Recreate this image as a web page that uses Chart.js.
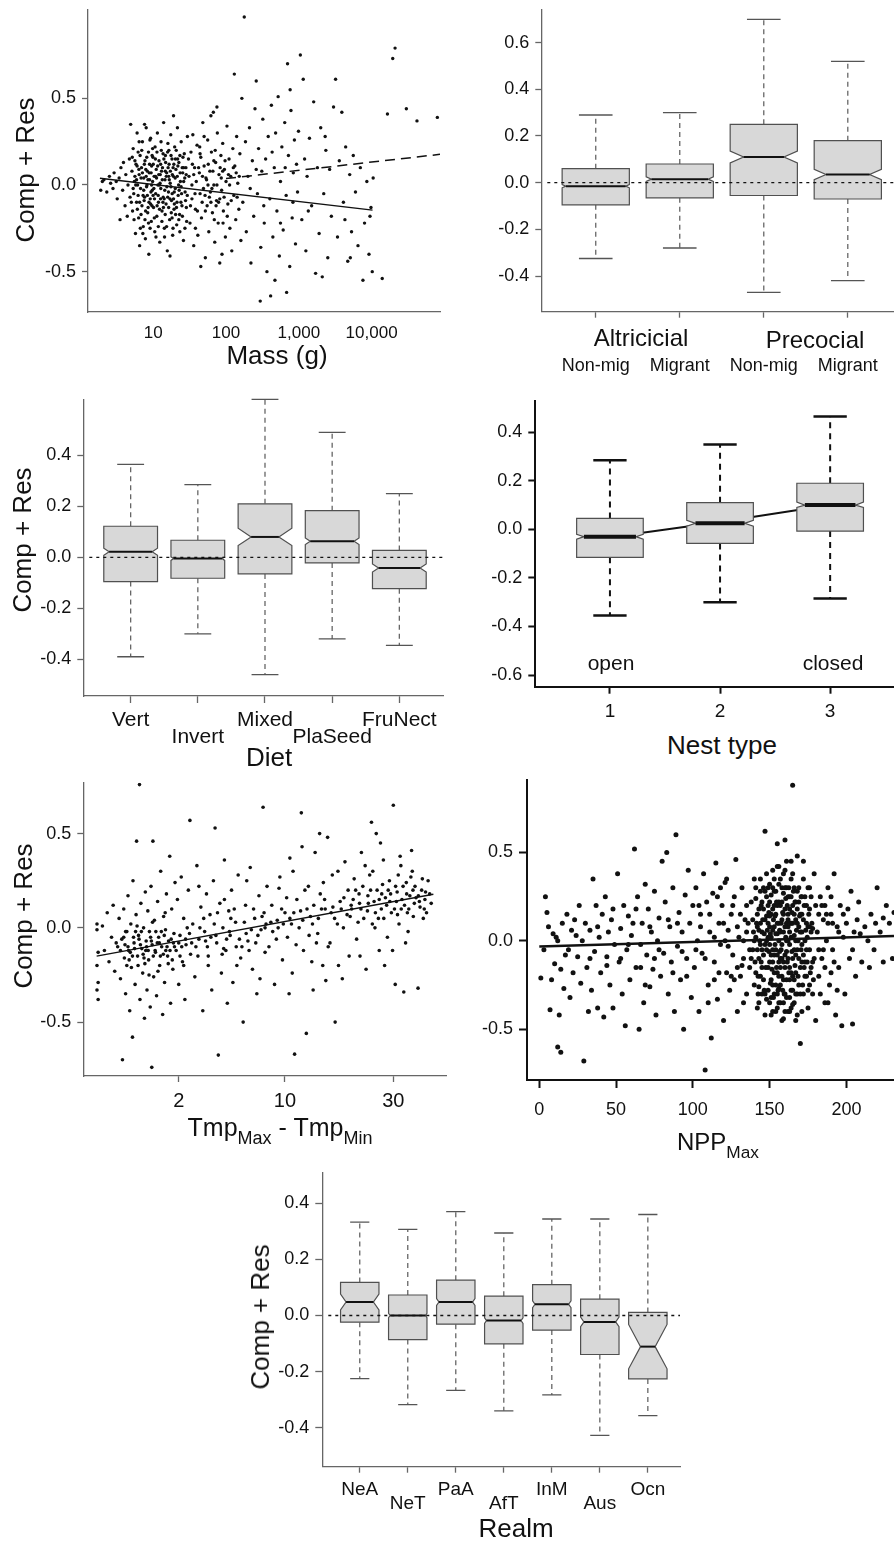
<!DOCTYPE html>
<html>
<head>
<meta charset="utf-8">
<script src="https://cdn.jsdelivr.net/npm/chart.js@4.4.0/dist/chart.umd.min.js"></script>
<style>
body { margin: 0; width: 894px; height: 1544px; position: relative; background: #fff; overflow: hidden;
       font-family: "Liberation Sans", Arial, sans-serif; color: #111; }
canvas { position: absolute; }
.t { position: absolute; transform: translate(-50%, -50%); white-space: nowrap; line-height: 1; }
.rot { transform: translate(-50%, -50%) rotate(-90deg); }
sub { font-size: 0.72em; vertical-align: -0.45em; }
</style>
</head>
<body>
<canvas id="mass"></canvas>
<canvas id="dev"></canvas>
<canvas id="diet"></canvas>
<canvas id="nest"></canvas>
<canvas id="tmp"></canvas>
<canvas id="npp"></canvas>
<canvas id="realm"></canvas>

<div class="t rot" style="left:25px;top:170px;font-size:26px">Comp + Res</div>
<div class="t" style="left:277px;top:355px;font-size:26px">Mass (g)</div>
<div class="t" style="left:641px;top:338px;font-size:24px">Altricicial</div>
<div class="t" style="left:815px;top:340px;font-size:24px">Precocial</div>
<div class="t rot" style="left:22px;top:540px;font-size:26px">Comp + Res</div>
<div class="t" style="left:269px;top:757px;font-size:26px">Diet</div>
<div class="t" style="left:611px;top:662px;font-size:21px">open</div>
<div class="t" style="left:833px;top:662px;font-size:21px">closed</div>
<div class="t" style="left:722px;top:745px;font-size:26px">Nest type</div>
<div class="t rot" style="left:23px;top:916px;font-size:26px">Comp + Res</div>
<div class="t" style="left:280px;top:1131px;font-size:25px">Tmp<sub>Max</sub> - Tmp<sub>Min</sub></div>
<div class="t" style="left:718px;top:1146px;font-size:24px">NPP<sub>Max</sub></div>
<div class="t rot" style="left:260px;top:1317px;font-size:26px">Comp + Res</div>
<div class="t" style="left:516px;top:1528px;font-size:26px">Realm</div>

<script>
// ---- data ----
// body mass (g) vs component + residual
const massPoints = [
  [1.9,-0.03],[2.0,0.02],[2.1,0.03],[2.3,-0.04],[2.5,0.05],[2.6,0.01],[2.8,-0.02],[2.9,0.07],[3.1,0.02],[3.2,-0.08],
  [3.4,0.04],[3.5,-0.2],[3.6,0.1],[3.8,-0.03],[3.9,0.13],[4.1,-0.12],[4.2,0.06],[4.4,-0.18],[4.5,0.0],[4.7,0.15],
  [4.8,-0.07],[4.9,0.35],
  [5.1,0.08],[5.2,-0.15],[5.3,0.21],[5.4,-0.05],[5.5,0.02],[5.7,-0.28],[5.8,0.12],[5.9,-0.1],[6.0,0.3],[6.1,0.0],
  [6.3,-0.19],[6.4,0.06],[6.5,-0.35],[6.6,0.17],[6.7,-0.02],[6.9,0.1],[7.0,-0.12],[7.1,0.25],[7.3,-0.24],[7.4,0.04],
  [7.6,-0.07],[7.7,0.14],[7.8,-0.31],[8.0,0.33],[8.1,-0.01],[8.3,0.08],[8.4,-0.16],[8.6,0.19],[8.7,-0.4],[8.9,0.03],
  [9.1,-0.08],[9.2,0.27],[9.4,-0.21],[9.5,0.11],[9.7,-0.03],[9.9,0.16],[10.1,-0.13],[10.3,0.05],[10.5,-0.27],[10.6,0.22],
  [10.8,-0.05],[11.0,0.09],[11.2,-0.18],[11.4,0.3],[11.6,0.0],[11.8,-0.1],[12.0,0.14],[12.3,-0.33],[12.5,0.06],[12.7,-0.02],
  [12.9,0.2],[13.2,-0.15],[13.4,0.1],[13.7,-0.07],[13.9,0.36],[14.2,-0.25],[14.5,0.03],[14.7,0.17],[15.0,-0.11],[15.3,0.07],
  [15.6,-0.38],[15.9,0.24],[16.2,-0.04],[16.5,0.12],[16.8,-0.2],[17.1,0.01],[17.4,0.29],[17.8,-0.09],[18.1,0.15],[18.5,-0.29],
  [18.9,0.05],[19.3,-0.14],[19.7,0.22],[20.1,-0.02],[20.5,0.09],[21.0,-0.23],[21.5,0.33],[22.0,-0.06],[22.5,0.13],[23.0,-0.17],
  [23.6,0.02],[24.2,0.25],[24.8,-0.12],[25.4,0.07],[26.0,-0.32],[26.7,0.18],[27.4,-0.04],[28.1,0.1],[28.8,-0.21],[29.5,0.28],
  [5.6,0.05],[6.2,-0.06],[6.8,0.04],[7.5,-0.09],[8.2,0.0],[8.8,0.07],[9.3,-0.04],[9.8,0.02],[10.4,-0.08],[11.1,0.04],
  [11.7,-0.06],[12.4,0.01],[13.0,0.08],[13.6,-0.1],[14.4,-0.03],[15.1,0.05],[15.8,-0.07],[16.6,0.03],[17.5,-0.01],[18.3,0.06],
  [19.0,-0.08],[20.0,0.04],[21.2,-0.1],[22.3,0.0],[23.4,0.07],[24.5,-0.05],[26.2,0.02],[27.8,-0.09],[7.9,0.09],[9.6,-0.12],
  [11.5,0.11],[13.8,-0.13],[16.0,0.1],[19.5,-0.11],[25.0,0.1],[5.0,-0.1],[6.0,0.11],[8.5,-0.13],[10.0,0.12],[12.2,-0.14],
  [14.8,0.13],[17.7,-0.16],[21.8,0.11],[7.6,0.35],[17.0,-0.41],[19.0,0.4],
  [5.3,-0.02],[5.6,0.14],[5.9,0.03],[6.2,0.19],[6.5,-0.1],[6.8,-0.17],[7.1,0.07],[7.4,-0.03],[7.7,-0.2],[8.0,0.05],
  [8.3,-0.06],[8.6,-0.22],[8.9,0.12],[9.2,-0.11],[9.5,0.0],[9.8,0.21],[10.2,-0.02],[10.7,0.15],[11.3,-0.12],[11.9,0.06],
  [12.6,-0.08],[13.3,0.03],[14.0,0.15],[14.6,-0.17],[15.4,-0.01],[16.3,-0.13],[17.2,0.08],[18.2,-0.05],[19.2,0.12],[20.3,-0.17],
  [21.4,0.05],[22.7,-0.03],[24.0,-0.1],[25.6,0.16],[27.1,0.04],[28.5,-0.13],[6.4,0.25],[9.0,0.26],[12.8,0.25],[16.4,0.2],
  [20.7,0.2],[7.2,-0.28],[10.9,-0.3],[14.3,-0.3],[18.7,-0.25],[23.2,-0.27],
  [5.15,0.16],[5.45,-0.2],[5.75,0.0],[6.05,-0.14],[6.35,0.09],[6.65,-0.25],[6.95,0.2],[7.25,-0.06],[7.55,0.12],[7.85,-0.15],
  [8.15,0.16],[8.45,0.03],[8.75,-0.1],[9.05,-0.25],[9.35,0.07],[9.65,0.17],[9.95,-0.06],[10.35,-0.19],[10.75,0.05],[11.25,0.19],
  [11.75,-0.24],[12.15,0.0],[12.65,0.12],[13.15,-0.21],[13.65,0.18],[14.15,-0.08],[14.65,0.08],[15.25,-0.24],[15.75,0.19],[16.35,0.05],
  [16.95,-0.08],[17.55,0.17],[18.15,-0.19],[18.75,0.1],[19.45,-0.04],[20.15,0.15],[20.85,-0.13],[21.65,0.15],[22.45,-0.2],[23.25,0.17],
  [24.15,-0.01],[25.15,-0.18],[26.15,0.1],[27.25,-0.25],[28.35,0.06],[29.35,-0.06],
  [31,0.05],[32,-0.22],[33,0.19],[34,-0.08],[35,0.29],[36,-0.35],[37,0.1],[38,-0.14],[39,0.02],[40,0.23],
  [41,-0.29],[43,0.07],[44,-0.05],[45,0.16],[46,-0.19],[48,0.36],[49,-0.02],[50,0.11],[52,-0.42],[53,0.04],
  [55,-0.12],[56,0.26],[58,-0.27],[60,0.08],[61,-0.04],[63,0.19],[65,-0.16],[67,0.42],[68,0.0],[70,-0.33],
  [72,0.13],[74,-0.09],[76,0.3],[78,-0.22],[80,0.06],[82,-0.45],[85,0.17],[87,-0.03],[90,0.24],[92,-0.15],
  [95,0.09],[98,-0.3],[100,0.02],[103,0.34],[106,-0.11],[110,0.15],[113,-0.25],[116,0.05],[120,-0.38],[124,0.21],
  [128,-0.06],[132,0.11],[136,-0.2],[140,0.28],[145,0.01],[150,-0.14],[155,0.18],[160,-0.32],
  [34,0.0],[42,0.1],[47,-0.1],[54,0.03],[59,-0.07],[66,0.08],[73,-0.12],[83,0.1],[94,-0.07],[108,0.06],
  [118,-0.09],[138,0.07],[45,-0.47],[62,0.4],[75,0.45],[88,-0.4],[130,0.64],
  [36,0.06],[44,0.18],[52,-0.15],[57,0.12],[64,-0.02],[71,0.2],[79,-0.1],[86,0.04],[97,0.14],[104,-0.18],
  [112,0.0],[126,0.1],[142,-0.07],[152,0.05],[38,-0.25],[50,0.28],[69,-0.2],[91,-0.22],
  [30.5,0.15],[32.5,-0.12],[34.5,0.12],[37.5,-0.05],[40.5,-0.15],[43.5,0.22],[47.5,0.05],[51.5,-0.06],[56.5,0.0],[62,-0.1],
  [68,0.14],[75,0.0],[82,-0.08],[90,0.08],
  [165,0.5],[170,-0.1],[178,0.97],[185,0.25],[190,-0.27],[200,0.05],[210,0.33],[220,-0.45],[230,0.14],[240,-0.18],
  [250,0.44],[260,0.6],[270,-0.05],[280,0.21],[295,-0.67],[300,-0.36],[310,0.08],[320,0.38],[335,-0.22],[350,0.15],
  [365,-0.5],[380,0.28],[400,-0.08],[410,-0.64],[420,0.46],[440,-0.3],[460,0.1],[480,0.3],[500,-0.15],[520,0.51],
  [540,-0.41],[560,0.02],[585,0.22],[610,-0.26],[640,0.36],[670,-0.06],[680,-0.62],[700,0.7],[720,0.17],[750,-0.47],
  [780,0.43],[810,-0.19],[840,0.07],[870,0.26],[900,-0.34],[930,0.12],[960,-0.04],[990,0.31],
  [215,-0.02],[260,0.09],[330,-0.12],[430,0.19],[560,-0.22],[650,0.1],[830,-0.1],[760,0.55],[470,-0.55],
  [1050,0.75],[1100,-0.2],[1150,0.61],[1200,0.15],[1250,-0.38],[1300,0.05],[1400,0.27],[1500,-0.12],[1600,0.48],[1700,-0.51],
  [1800,0.1],[1900,-0.28],[2000,0.33],[2100,-0.53],[2200,-0.05],[2350,0.2],[2500,-0.42],[2650,0.09],[2800,-0.18],[3000,0.45],
  [3200,0.61],[3400,-0.3],[3600,0.14],[3900,0.42],[4100,-0.1],[4400,0.22],[4700,-0.44],[5000,0.06],[5300,-0.27],[5600,0.17],
  [6000,-0.04],[6500,-0.35],[7000,0.1],[7600,-0.55],[8000,-0.22],[8600,0.02],[9200,-0.4],[9800,-0.13],[10200,-0.5],[10500,0.04],
  [1350,-0.15],[2300,0.28],[4300,-0.2],[5100,-0.42],[9500,-0.18],
  [14000,-0.54],[16500,0.41],[19500,0.73],[21000,0.79],[30000,0.44],[42000,0.37],[80000,0.39]
];
const massFitX = [1.85, 10300];
const massFitY = [0.039, -0.145];
const massFit2X = [100, 87000];
const massFit2Y = [0.037, 0.177];
const massTicks = [10, 100, 1000, 10000];

// development x migration: [low cap, Q1, notch low, median, notch high, Q3, high cap]
const devCats = ['Non-mig', 'Migrant', 'Non-mig', 'Migrant'];
const devStats = [
  [-0.325, -0.095, -0.022, -0.015, -0.008, 0.06, 0.29],
  [-0.28, -0.065, 0.005, 0.015, 0.025, 0.08, 0.30],
  [-0.47, -0.055, 0.085, 0.11, 0.135, 0.25, 0.70],
  [-0.42, -0.07, 0.013, 0.035, 0.057, 0.18, 0.52]
];

const dietCats = ['Vert', 'Invert', 'Mixed', 'PlaSeed', 'FruNect'];
const dietStats = [
  [-0.39, -0.095, 0.008, 0.022, 0.036, 0.122, 0.365],
  [-0.30, -0.082, -0.012, -0.005, 0.002, 0.067, 0.285],
  [-0.46, -0.065, 0.046, 0.08, 0.114, 0.21, 0.62],
  [-0.32, -0.022, 0.05, 0.063, 0.076, 0.183, 0.49],
  [-0.345, -0.123, -0.058, -0.042, -0.026, 0.027, 0.25]
];

const nestCats = ['1', '2', '3'];
const nestStats = [
  [-0.355, -0.115, -0.04, -0.03, -0.02, 0.045, 0.285],
  [-0.30, -0.058, 0.013, 0.025, 0.037, 0.11, 0.35],
  [-0.285, -0.007, 0.09, 0.10, 0.112, 0.19, 0.465]
];
const nestTrend = [-0.032, 0.030, 0.100];

// temperature range (deg C) vs component + residual
const tmpPoints = [
  [0.23,0.02],[0.23,-0.01],[0.24,-0.13],[0.23,-0.2],[0.24,-0.29],[0.23,-0.33],[0.24,-0.38],[0.28,0.01],[0.3,-0.12],[0.33,0.08],
  [0.35,-0.18],[0.38,-0.05],[0.4,0.12],[0.42,-0.23],[0.44,-0.08],
  [0.46,-0.1],[0.48,0.05],[0.5,-0.27],[0.52,-0.06],[0.53,-0.7],[0.55,0.1],[0.56,-0.16],[0.58,-0.35],[0.6,-0.02],[0.62,0.17],
  [0.63,-0.12],[0.65,-0.44],[0.67,0.02],[0.68,-0.21],[0.7,-0.58],[0.71,0.25],[0.73,-0.08],[0.75,-0.3],[0.77,0.07],[0.78,0.46],
  [0.8,-0.15],[0.82,-0.04],[0.84,0.76],[0.85,-0.38],[0.87,0.13],[0.89,-0.11],[0.91,-0.24],[0.93,0.0],[0.95,-0.48],[0.97,0.19],
  [0.99,-0.07],[1.01,-0.33],[1.03,0.09],[1.05,-0.17],[1.07,-0.02],[1.09,-0.42],[1.11,0.22],[1.13,-0.74],[1.14,-0.09],[1.16,0.46],
  [1.18,-0.26],[1.2,0.04],[1.23,-0.13],[1.26,-0.36],[1.29,0.14],[1.32,-0.05],[1.35,-0.2],[1.38,0.3],[1.41,-0.1],[1.44,-0.46],
  [1.47,0.06],[1.5,-0.29],[1.53,-0.01],[1.56,0.18],[1.6,-0.15],[1.63,-0.07],[1.67,0.38],[1.7,-0.4],[1.74,0.1],[1.78,-0.22],
  [1.82,-0.03],[1.86,0.24],
  [0.57,-0.09],[0.66,-0.13],[0.74,-0.11],[0.83,-0.06],[0.92,-0.14],[1.0,-0.1],[1.1,-0.05],[1.22,-0.12],[1.34,-0.08],[1.46,-0.14],
  [1.58,-0.1],[1.72,-0.06],[0.6,-0.2],[0.79,0.01],[0.96,-0.19],[1.15,0.03],[1.3,-0.23],[1.52,0.08],[1.76,-0.17],
  [0.55,-0.05],[0.62,-0.1],[0.7,-0.15],[0.76,-0.02],[0.86,-0.09],[0.94,-0.16],[1.04,-0.12],[1.12,-0.07],[1.24,-0.02],[1.37,-0.15],
  [1.49,-0.04],[1.62,-0.19],[1.8,-0.08],
  [0.5,-0.12],[0.58,-0.02],[0.64,-0.17],[0.72,-0.05],[0.81,-0.2],[0.88,-0.02],[0.98,-0.12],[1.06,-0.25],[1.17,-0.15],[1.28,-0.08],
  [1.4,-0.02],[1.54,-0.12],[1.68,-0.12],[1.84,-0.1],
  [1.9,-0.12],[1.95,0.15],[2.0,-0.3],[2.05,-0.04],[2.1,0.27],[2.15,-0.18],[2.2,0.05],[2.25,-0.38],[2.3,-0.09],[2.4,0.2],
  [2.47,0.57],[2.5,-0.14],[2.6,0.02],[2.7,-0.26],[2.8,0.33],[2.9,-0.06],[3.0,0.11],[3.1,-0.44],[3.2,-0.02],[3.3,0.18],
  [3.4,-0.2],[3.5,0.07],[3.6,-0.33],[3.7,0.25],[3.8,0.53],[3.9,-0.08],[4.0,-0.675],[4.1,0.13],[4.2,-0.24],[4.3,0.0],
  [4.4,0.36],[4.5,-0.12],[4.6,-0.4],[4.7,0.09],[4.8,-0.04],[4.9,0.2],[5.0,-0.29],[5.2,0.03],[5.4,0.28],[5.6,-0.16],
  [5.8,-0.5],[6.0,0.12],[6.2,-0.07],[6.4,0.32],[6.6,-0.22],[6.8,0.05],[7.0,-0.35],[7.2,0.17],[7.4,-0.01],[7.6,0.64],
  [7.8,-0.13],[8.0,0.22],
  [2.0,-0.08],[2.35,0.0],[2.75,-0.1],[3.15,0.05],[3.55,-0.05],[3.95,0.08],[4.35,-0.11],[4.75,-0.02],[5.1,0.1],[5.5,-0.06],
  [5.9,0.03],[6.3,-0.12],[6.7,0.1],[7.1,-0.04],[7.5,0.06],[2.2,-0.2],[2.9,0.22],[3.4,-0.15],[4.4,0.15],[5.3,-0.2],
  [6.1,0.25],[7.3,-0.27],[7.9,0.02],
  [2.12,-0.1],[2.45,-0.03],[2.85,-0.15],[3.25,-0.07],[3.75,0.02],[4.25,-0.14],[4.85,0.05],[5.7,-0.1],[6.5,-0.01],[7.7,0.08],
  [2.05,-0.15],[2.28,-0.06],[2.55,-0.08],[2.95,0.0],[3.35,-0.1],[3.85,-0.04],[4.55,-0.06],[5.25,-0.1],[6.05,-0.03],[6.9,-0.08],
  [7.8,0.0],
  [8.2,-0.1],[8.5,0.12],[8.8,-0.3],[9.1,0.04],[9.4,0.27],[9.7,-0.17],[10.0,0.08],[10.3,-0.05],[10.6,0.37],[10.9,-0.24],
  [11.2,-0.67],[11.5,0.15],[11.8,0.0],[12.1,0.61],[12.4,-0.12],[12.8,-0.56],[13.1,0.22],[13.4,0.06],[13.8,-0.33],[14.1,0.4],
  [14.5,-0.03],[14.9,0.18],[15.3,-0.2],[15.7,0.1],[16.1,0.48],[16.5,-0.08],[16.9,0.28],[17.4,-0.5],[17.8,0.02],[18.3,0.14],
  [18.7,-0.27],[19.2,0.35],[19.6,0.07],[20.0,-0.15],
  [8.4,0.03],[9.0,-0.06],[9.6,0.1],[10.2,0.16],[10.8,0.02],[11.4,-0.09],[12.0,0.09],[12.6,0.2],[13.2,-0.04],[13.9,0.12],
  [14.6,0.05],[15.4,0.24],[16.2,-0.1],[17.0,0.11],[17.9,0.3],[18.9,0.0],[19.8,0.2],[9.3,0.21],[11.0,0.3],[13.6,-0.18],
  [15.8,-0.28],[18.0,-0.2],[12.2,0.43],[14.8,0.5],[10.5,-0.35],
  [8.6,-0.02],[9.8,0.02],[11.1,0.08],[12.9,0.1],[14.3,-0.08],[15.6,0.15],[17.3,0.05],[19.0,0.16],
  [9.2,0.0],[10.6,0.05],[12.3,0.04],[13.7,0.02],[15.1,0.1],[16.7,0.08],[18.5,0.1],
  [20.5,0.1],[21.0,0.26],[21.5,-0.06],[22.0,0.18],[22.5,0.4],[23.0,0.05],[23.5,-0.22],[24.0,0.13],[24.7,0.56],[25.0,0.3],
  [25.5,0.0],[26.0,0.2],[26.5,-0.12],[27.0,0.1],[27.5,0.36],[28.0,0.16],[28.5,-0.05],[29.0,0.25],[29.5,0.08],[30.0,0.65],
  [30.5,-0.3],[31.0,0.19],[31.5,0.02],[32.0,0.33],[32.8,-0.34],[33.0,0.12],[33.5,0.24],[34.0,-0.02],[34.5,0.17],[35.0,0.41],
  [35.5,0.06],[36.0,0.22],[36.9,-0.32],[37.5,0.11],[38.0,0.2],[38.5,0.05],[39.0,0.15],[40.0,0.25],[41.0,0.13],
  [20.8,0.15],[21.8,0.03],[22.8,0.22],[23.8,0.09],[24.3,0.28],[25.3,0.14],[26.3,0.05],[27.3,0.23],[28.3,0.12],[29.3,0.18],
  [30.3,0.1],[31.3,0.28],[32.3,0.15],[33.8,0.08],[34.8,0.27],[35.8,0.13],[37.0,0.17],[38.8,0.1],[23.3,0.33],[26.8,0.45],
  [29.8,-0.12],[31.8,0.38],[27.8,-0.2],[33.3,-0.08],[22.2,-0.15],[25.8,0.5],
  [20.2,0.06],[21.3,0.2],[22.4,0.1],[24.5,0.2],[26.5,0.15],[28.7,0.2],[30.8,0.14],[32.6,0.22],[34.2,0.1],[36.3,0.16],
  [38.2,0.26],[39.5,0.08],[40.5,0.18],[27.6,0.05],[31.1,0.07],[24.9,0.02],[35.2,0.3],
  [20.4,0.12],[22.1,0.13],[23.9,0.17],[25.6,0.08],[27.1,0.18],[29.1,0.14],[30.6,0.22],[32.1,0.1],[33.6,0.18],[35.4,0.2],
  [37.3,0.14],[39.2,0.19]
];
const tmpFitX = [0.227, 41.7];
const tmpFitY = [-0.15, 0.178];
const tmpTicks = [2, 10, 30];

// NPP max vs component + residual
const nppPoints = [
  [1,-0.21],[4,0.25],[5,0.16],[6,0.08],[7,-0.39],[8,-0.22],[9,0.04],[10,-0.13],[11,0.02],[12,-0.6],
  [13,-0.42],[14,-0.63],[14,-0.16],[15,0.1],[16,-0.27],[18,0.15],[19,-0.05],[20,-0.32],[21,0.06],[22,-0.18],
  [23,0.12],[25,-0.09],[26,0.2],[27,-0.24],[28,0.0],[29,-0.68],[30,0.1],[31,-0.15],[32,-0.4],[33,0.06],
  [34,-0.28],[35,0.35],[36,-0.06],[37,0.2],[38,-0.38],[39,0.02],[40,-0.18],[41,0.15],[42,-0.43],[43,0.25],
  [44,-0.09],[45,0.05],[46,-0.25],[47,0.12],[48,-0.38],[49,-0.02],
  [3,-0.05],[12,0.0],[17,-0.08],[24,0.03],[33,-0.1],[38,0.08],[44,-0.14],[48,0.18],
  [51,0.38],[52,-0.12],[53,0.07],[54,-0.3],[55,0.2],[56,-0.48],[57,-0.05],[58,0.14],[59,-0.22],[60,0.03],
  [62,0.52],[63,-0.15],[64,0.25],[65,-0.5],[66,-0.02],[67,0.1],[68,-0.35],[69,0.32],[70,-0.08],[71,0.18],
  [72,-0.26],[73,0.05],[74,-0.16],[75,0.28],[76,-0.42],[77,0.0],[78,0.13],[79,-0.2],[80,0.45],[81,-0.07],
  [82,0.22],[83,0.5],[84,-0.3],[85,0.08],[86,-0.12],[87,0.3],[88,-0.4],[89,0.6],[90,-0.03],[91,0.16],
  [92,-0.22],[93,0.05],[94,-0.5],[95,0.26],[96,-0.1],[97,0.4],[98,0.1],[99,-0.32],[100,0.2],
  [53,-0.1],[58,-0.02],[61,0.1],[66,-0.15],[72,0.08],[78,-0.05],[84,0.12],[90,0.1],[96,-0.2],[75,-0.1],
  [63,0.18],[87,-0.18],[93,-0.06],[69,-0.25],
  [101,-0.15],[102,0.3],[103,0.0],[104,-0.4],[105,0.15],[106,-0.07],[107,0.38],[108,-0.73],[109,0.22],[110,-0.25],
  [111,0.05],[112,-0.55],[113,0.27],[114,-0.12],[115,0.44],[116,-0.33],[117,0.1],[118,-0.02],[119,0.2],[120,-0.45],
  [121,0.33],[122,-0.18],[123,0.06],[124,-0.28],[125,0.15],[126,-0.08],[127,0.25],[128,0.46],[129,-0.4],[130,0.02],
  [131,-0.2],[132,0.3],[133,-0.1],[134,0.12],[135,-0.3],
  [102,-0.05],[105,0.08],[108,-0.1],[111,0.15],[114,0.02],[117,-0.18],[120,0.1],[123,-0.03],[126,0.2],[129,0.08],
  [132,-0.14],[135,0.05],[104,0.2],[110,-0.35],[116,0.25],[122,0.35],[127,-0.22],[133,-0.35],
  [135,0.2],[137,-0.05],[133,0.0],[131,0.15],[129,-0.15],[125,-0.2],[121,0.0],[118,0.3],[114,-0.22],
  [136,0.1],[137,-0.15],[138,0.22],[139,-0.05],[140,0.35],[140,-0.25],[141,0.02],[142,-0.38],[142,0.15],[143,-0.1],
  [144,0.28],[144,-0.2],[145,0.05],[145,-0.3],[146,0.18],[146,-0.08],[147,0.62],[147,-0.42],[148,0.0],[148,0.25],
  [149,-0.15],[149,0.1],[150,-0.35],[150,0.32],[150,-0.02],[151,0.15],[151,-0.22],[152,0.06],[152,-0.12],[152,0.4],
  [153,-0.3],[153,0.2],[154,-0.05],[154,0.28],[154,-0.4],[155,0.1],[155,-0.18],[155,0.55],[156,0.0],[156,-0.27],
  [156,0.22],[157,-0.1],[157,0.35],[157,-0.35],[158,0.12],[158,-0.02],[158,-0.2],[159,0.27],[159,-0.12],[159,0.05],
  [160,-0.3],[160,0.18],[160,0.57],[161,-0.06],[161,0.3],[161,-0.22],[162,0.08],[162,-0.4],[162,0.15],[163,-0.15],
  [163,0.25],[163,-0.02],[164,0.45],[164,-0.28],[164,0.1],[165,-0.1],[165,0.2],[165,0.88],[166,-0.35],[166,0.03],
  [166,0.3],[167,-0.18],[167,0.12],[168,-0.05],[168,0.48],[168,-0.42],[169,0.22],[169,-0.25],[170,0.05],[170,-0.58],
  [171,0.15],[171,-0.12],[172,0.35],[172,-0.3],[173,0.0],[173,0.25],[174,-0.2],[174,0.1],[175,-0.38],[175,0.3],
  [176,-0.05],[176,0.18],[177,-0.15],[178,0.07],[178,-0.3],[179,0.38],[179,-0.1],[180,0.2],[180,-0.45],
  [143,0.06],[145,-0.15],[147,0.12],[149,-0.28],[151,0.02],[153,-0.08],[155,0.04],[157,0.2],[159,-0.35],[161,0.1],
  [163,0.05],[165,-0.2],[167,0.0],[169,0.08],[171,-0.02],[173,-0.12],[148,-0.05],[150,0.22],[152,-0.25],[154,0.15],
  [156,-0.12],[158,0.3],[160,-0.08],[162,0.0],[164,-0.18],[166,0.15],[168,0.1],[170,-0.15],[146,0.3],[144,-0.02],
  [155,-0.38],[160,0.4],[153,0.35],[163,-0.32],[158,-0.45],[165,0.38],[142,-0.05],[150,0.08],[157,-0.25],[162,0.25],
  [138,-0.1],[139,0.12],[140,0.0],[141,-0.18],[141,0.24],[142,0.08],[143,-0.26],[143,0.18],[144,0.1],[145,0.22],
  [145,-0.05],[146,-0.22],[147,-0.02],[147,0.28],[148,-0.33],[148,0.14],[149,0.02],[149,0.2],[150,-0.12],[150,0.14],
  [151,-0.08],[151,0.26],[151,-0.32],[152,0.18],[152,-0.05],[153,0.08],[153,-0.18],[154,0.04],[154,-0.25],[155,0.2],
  [155,-0.08],[156,0.1],[156,-0.2],[156,0.32],[157,0.05],[157,-0.15],[158,0.22],[158,-0.1],[159,0.15],[159,-0.22],
  [160,0.08],[160,-0.15],[161,0.0],[161,-0.32],[162,0.12],[162,-0.1],[163,0.18],[163,-0.22],[164,0.02],[164,0.25],
  [165,0.1],[165,-0.28],[166,-0.05],[166,-0.22],[167,0.22],[167,-0.08],[168,0.18],[168,-0.3],[169,-0.1],[169,0.3],
  [170,0.15],[170,-0.3],[171,0.05],[171,0.25],[172,-0.08],[172,0.12],[173,-0.2],[174,0.2],[174,-0.05],[175,0.08],
  [176,-0.25],[177,0.05],[177,0.25],[178,-0.12],[176,0.08],[153,0.28],[149,0.3],[159,0.38],[161,0.45],[155,0.42],
  [152,-0.4],[156,-0.35],[160,-0.4],[164,-0.38],[167,-0.3],
  [139.5,0.05],[140.5,-0.12],[141.5,0.1],[142.5,-0.3],[143.5,0.0],[144.5,-0.12],[145.5,0.12],[146.5,0.04],[147.5,-0.15],[148.5,0.06],
  [149.5,-0.06],[150.5,0.04],[151.5,-0.16],[152.5,0.12],[153.5,-0.02],[154.5,0.22],[155.5,-0.28],[156.5,0.06],[157.5,-0.05],[158.5,0.16],
  [159.5,-0.3],[160.5,0.02],[161.5,0.2],[162.5,-0.18],[163.5,0.1],[164.5,-0.06],[165.5,0.28],[166.5,-0.14],[167.5,0.06],[168.5,-0.2],
  [169.5,0.14],[170.5,-0.05],[171.5,-0.25],[172.5,0.2],[173.5,0.06],[174.5,-0.12],[175.5,0.15],[176.5,-0.18],[177.5,0.1],[178.5,-0.22],
  [141,0.3],[144,0.35],[148,0.38],[152,0.3],[156,0.42],[160,0.3],[164,0.35],[168,0.28],[172,0.45],[176,0.3],
  [143,-0.35],[147,-0.3],[151,-0.42],[155,-0.3],[159,-0.44],[163,-0.4],[167,-0.45],[171,-0.4],[175,-0.28],[165,-0.36],
  [149.5,0.16],[150.5,-0.24],[152.5,-0.32],[154.5,-0.15],[156.5,-0.06],[158.5,-0.28],[160.5,0.24],[162.5,0.3],[164.5,0.16],[166.5,0.22],
  [168.5,0.0],[170.5,0.25],[172.5,-0.15],[174.5,0.02],[146.5,-0.28],[144.5,0.2],[142.5,-0.2],[157.5,0.1],[161.5,-0.12],[153.5,0.14],
  [181,0.05],[182,-0.2],[183,0.25],[184,-0.1],[185,0.12],[186,-0.35],[187,0.0],[188,0.3],[189,-0.25],[190,0.15],
  [191,-0.05],[192,0.38],[193,-0.42],[194,0.08],[195,-0.15],[196,0.2],[197,-0.48],[198,0.02],[199,-0.3],[200,0.1],
  [201,0.18],[202,-0.1],[203,0.28],[204,-0.47],[205,0.05],[206,-0.2],[207,0.12],[208,0.22],[210,-0.12],[212,0.08],
  [214,0.0],[216,0.15],[218,-0.05],[220,0.3],[222,0.05],[224,-0.12],[226,0.2],[228,0.1],[230,-0.1],[231,0.16],
  [185,-0.05],[188,0.1],[192,-0.12],[195,0.05],[198,0.15],[182,0.15],[186,0.2],[190,-0.18],[194,-0.28],[204,-0.05],
  [209,0.04],[215,-0.15],[219,0.1],[224,0.13],
  [182,-0.05],[184,0.2],[186,-0.15],[188,-0.35],[190,0.25],[183,-0.3],[187,0.15],[191,0.1]
];
const nppFitX = [0, 231];
const nppFitY = [-0.032, 0.028];
const nppTicks = [0, 50, 100, 150, 200];

const realmCats = ['NeA', 'NeT', 'PaA', 'AfT', 'InM', 'Aus', 'Ocn'];
const realmStats = [
  [-0.225, -0.024, 0.02, 0.048, 0.076, 0.118, 0.333],
  [-0.318, -0.086, -0.008, 0.0, 0.008, 0.073, 0.307],
  [-0.267, -0.031, 0.036, 0.048, 0.06, 0.126, 0.37],
  [-0.34, -0.101, -0.028, -0.018, -0.008, 0.069, 0.294],
  [-0.283, -0.052, 0.028, 0.04, 0.052, 0.11, 0.344],
  [-0.427, -0.139, -0.04, -0.023, -0.006, 0.058, 0.344],
  [-0.357, -0.226, -0.19, -0.111, -0.032, 0.011, 0.36]
];

// ---- drawing ----
Chart.defaults.font.family = '"Liberation Sans", Arial, sans-serif';
Chart.defaults.color = '#111';

const GRAY = '#666';
const fmt1 = v => v.toFixed(1);

// notched box plots drawn through the chart's own x/y scales
const boxPlugin = {
  id: 'boxes',
  afterDatasetsDraw(chart, args, o) {
    if (!o.rows) return;
    const { ctx, chartArea: a } = chart;
    const xs = chart.scales.x, ys = chart.scales.y;
    const Y = v => ys.getPixelForValue(v);
    ctx.save();
    o.rows.forEach((r, i) => {
      const [lo, q1, nlo, med, nhi, q3, hi] = r;
      const cx = xs.getPixelForValue(i + 1);
      const hw = xs.getPixelForValue(1 + o.width / 2) - xs.getPixelForValue(1);
      const nh = (Y(nlo) - Y(nhi)) / 2;
      const nw = hw - Math.min(hw * o.notchMax, o.slope * nh);

      ctx.setLineDash(o.dash);
      ctx.strokeStyle = o.whisker;
      ctx.lineWidth = o.whiskerWidth;
      ctx.beginPath();
      ctx.moveTo(cx, Y(q3)); ctx.lineTo(cx, Y(hi));
      ctx.moveTo(cx, Y(q1)); ctx.lineTo(cx, Y(lo));
      ctx.stroke();
      ctx.setLineDash([]);

      ctx.strokeStyle = o.cap;
      ctx.lineWidth = o.capWidth;
      ctx.beginPath();
      [lo, hi].forEach(v => { ctx.moveTo(cx - hw / 2, Y(v)); ctx.lineTo(cx + hw / 2, Y(v)); });
      ctx.stroke();

      ctx.beginPath();
      ctx.moveTo(cx - hw, Y(q1)); ctx.lineTo(cx + hw, Y(q1));
      ctx.lineTo(cx + hw, Y(nlo)); ctx.lineTo(cx + nw, Y(med)); ctx.lineTo(cx + hw, Y(nhi));
      ctx.lineTo(cx + hw, Y(q3)); ctx.lineTo(cx - hw, Y(q3));
      ctx.lineTo(cx - hw, Y(nhi)); ctx.lineTo(cx - nw, Y(med)); ctx.lineTo(cx - hw, Y(nlo));
      ctx.closePath();
      ctx.fillStyle = '#d8d8d8';
      ctx.fill();
      ctx.strokeStyle = '#505050';
      ctx.lineWidth = 1.2;
      ctx.stroke();

      ctx.strokeStyle = '#111';
      ctx.lineWidth = o.medianWidth;
      ctx.beginPath();
      ctx.moveTo(cx - nw, Y(med)); ctx.lineTo(cx + nw, Y(med));
      ctx.stroke();
    });
    if (o.zero) {
      ctx.setLineDash([3, 4]);
      ctx.strokeStyle = '#111';
      ctx.lineWidth = 1.3;
      ctx.beginPath();
      ctx.moveTo(a.left + 6, Y(0)); ctx.lineTo(a.right, Y(0));
      ctx.stroke();
    }
    ctx.restore();
  }
};

function axis(o, which, size) {
  return {
    type: o.type || 'linear',
    position: which === 'x' ? 'bottom' : 'left',
    min: o.min, max: o.max,
    afterFit: s => {
      if (which === 'x') s.height = size; else s.width = size;
      s.paddingLeft = s.paddingRight = s.paddingTop = s.paddingBottom = 0;
    },
    afterBuildTicks: s => { s.ticks = o.ticks.map(v => ({ value: v })); },
    border: { display: true, color: o.color || GRAY, width: o.width || 1.3 },
    grid: { display: true, drawOnChartArea: false, drawTicks: o.tick > 0, tickLength: o.tick || 0,
            tickColor: o.color || GRAY, tickWidth: o.width || 1.3 },
    ticks: { autoSkip: false, maxRotation: 0, minRotation: 0, padding: o.pad, color: '#111',
             font: { size: o.font, lineHeight: o.lh || 1.2 }, callback: o.label }
  };
}

function panel(id, box, area, xo, yo, datasets, boxes) {
  const cv = document.getElementById(id);
  cv.width = box.w; cv.height = box.h;
  cv.style.left = box.left + 'px'; cv.style.top = box.top + 'px';
  return new Chart(cv, {
    type: 'scatter',
    data: { datasets },
    options: {
      responsive: false, animation: false, devicePixelRatio: 1,
      layout: { autoPadding: false,
                padding: { left: 0, bottom: 0, top: area.T - box.top, right: box.left + box.w - area.R } },
      plugins: { legend: { display: false }, tooltip: { enabled: false }, boxes: boxes || {} },
      scales: { x: axis(xo, 'x', box.top + box.h - area.B), y: axis(yo, 'y', area.L - box.left) }
    },
    plugins: [boxPlugin]
  });
}

const pts = (arr, r) => ({ data: arr.map(p => ({ x: p[0], y: p[1] })), showLine: false,
  pointRadius: r, pointBackgroundColor: '#111', pointBorderWidth: 0 });
const fit = (xs, ys, w, dash) => ({ data: xs.map((x, i) => ({ x, y: ys[i] })), showLine: true,
  pointRadius: 0, borderColor: '#111', borderWidth: w, borderDash: dash || [] });
const yAxis = (min, max, ticks, extra) => Object.assign(
  { min, max, ticks, tick: 6, pad: 6, font: 18, label: fmt1 }, extra || {});

// 1. mass
panel('mass', { left: 0, top: 0, w: 447, h: 345 }, { L: 88, T: 10, R: 440, B: 312 },
  { type: 'logarithmic', min: 1.27, max: 87000, ticks: massTicks, tick: 0, pad: 11, font: 17,
    label: v => v.toLocaleString('en-US') },
  yAxis(-0.733, 1.01, [-0.5, 0, 0.5]),
  [fit(massFitX, massFitY, 1.5), fit(massFit2X, massFit2Y, 1.5, [10, 6]), pts(massPoints, 1.7)]);

// 2. development / migration (labels on the second line, group names above)
panel('dev', { left: 447, top: 0, w: 447, h: 380 }, { L: 541.3, T: 10, R: 894, B: 311.7 },
  { min: 0.352, max: 4.55, ticks: [1, 2, 3, 4], tick: 6, pad: 4, font: 18, lh: 1.64,
    label: v => ['', devCats[v - 1]] },
  yAxis(-0.553, 0.74, [-0.4, -0.2, 0, 0.2, 0.4, 0.6]),
  [],
  { rows: devStats, width: 0.8, notchMax: 0.5, slope: 2.3, dash: [5, 4], whisker: GRAY, whiskerWidth: 1.3,
    cap: '#555', capWidth: 1.3, medianWidth: 2, zero: true });

// 3. diet
panel('diet', { left: 0, top: 385, w: 447, h: 375 }, { L: 83.3, T: 399.3, R: 443, B: 696 },
  { min: 0.295, max: 5.65, ticks: [1, 2, 3, 4, 5], tick: 7, pad: 8.6, font: 21, lh: 0.8,
    label: v => (v % 2 === 0 ? ['', dietCats[v - 1]] : dietCats[v - 1]) },
  yAxis(-0.544, 0.62, [-0.4, -0.2, 0, 0.2, 0.4]),
  [],
  { rows: dietStats, width: 0.8, notchMax: 0.5, slope: 1.5, dash: [5, 4], whisker: GRAY, whiskerWidth: 1.3,
    cap: '#555', capWidth: 1.3, medianWidth: 2, zero: true });

// 4. nest type
panel('nest', { left: 447, top: 385, w: 447, h: 345 }, { L: 535.3, T: 400.7, R: 894, B: 686.7 },
  { min: 0.322, max: 3.58, ticks: [1, 2, 3], tick: 7, pad: 6.6, font: 19, color: '#111', width: 2,
    label: v => nestCats[v - 1] },
  yAxis(-0.648, 0.53, [-0.6, -0.4, -0.2, 0, 0.2, 0.4], { tick: 7, color: '#111', width: 2 }),
  [fit([1, 2, 3], nestTrend, 2)],
  { rows: nestStats, width: 0.605, notchMax: 0.4, slope: 3, dash: [6, 5], whisker: '#111', whiskerWidth: 2,
    cap: '#111', capWidth: 2.5, medianWidth: 4, zero: false });

// 5. temperature range (power-transformed axis)
const tT = v => Math.pow(v, 0.3);
panel('tmp', { left: 0, top: 770, w: 447, h: 345 }, { L: 83.3, T: 782.7, R: 446.7, B: 1076 },
  { min: 0.545, max: 3.158, ticks: tmpTicks.map(tT), tick: 6, pad: 7.7, font: 20,
    label: (v, i) => tmpTicks[i] },
  yAxis(-0.786, 0.77, [-0.5, 0, 0.5]),
  [fit(tmpFitX.map(tT), tmpFitY, 1.5), pts(tmpPoints.map(p => [tT(p[0]), p[1]]), 1.8)]);

// 6. NPP
panel('npp', { left: 447, top: 770, w: 447, h: 355 }, { L: 527, T: 780, R: 894, B: 1080 },
  { min: -8, max: 231, ticks: nppTicks, tick: 8, pad: 11, font: 18, color: '#111', width: 2,
    label: v => v },
  yAxis(-0.787, 0.91, [-0.5, 0, 0.5], { tick: 8, color: '#111', width: 2 }),
  [fit(nppFitX, nppFitY, 2.5), pts(nppPoints, 2.5)]);

// 7. realm
panel('realm', { left: 220, top: 1160, w: 470, h: 384 }, { L: 322.3, T: 1172.7, R: 680, B: 1466.7 },
  { min: 0.22, max: 7.67, ticks: [1, 2, 3, 4, 5, 6, 7], tick: 6, pad: 10, font: 19, lh: 0.74,
    label: v => (v % 2 === 0 ? ['', realmCats[v - 1]] : realmCats[v - 1]) },
  yAxis(-0.539, 0.509, [-0.4, -0.2, 0, 0.2, 0.4], { tick: 7 }),
  [],
  { rows: realmStats, width: 0.8, notchMax: 0.62, slope: 0.7, dash: [5, 4], whisker: GRAY, whiskerWidth: 1.3,
    cap: '#555', capWidth: 1.3, medianWidth: 2, zero: true });
</script>
</body>
</html>
